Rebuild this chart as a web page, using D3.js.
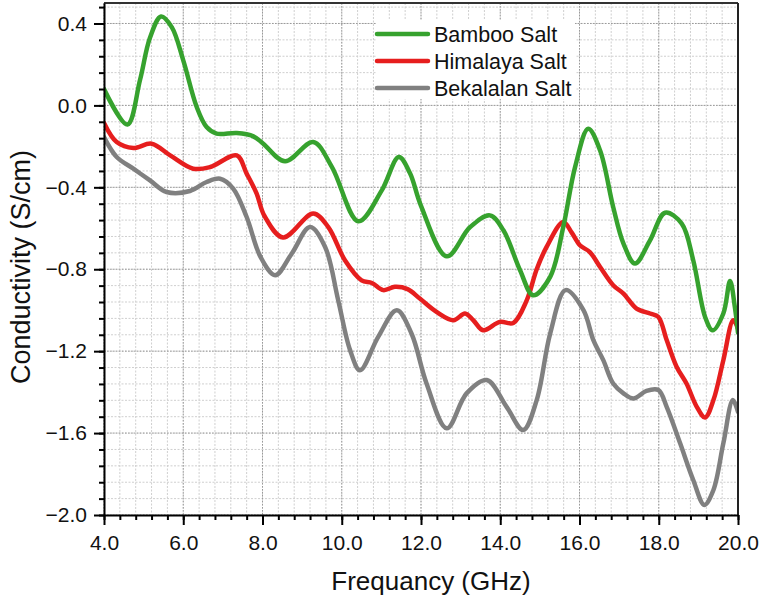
<!DOCTYPE html>
<html>
<head>
<meta charset="utf-8">
<script src="https://cdn.jsdelivr.net/npm/d3@7/dist/d3.min.js"></script>
<style>
	body { margin: 0; background: #fff; }
	svg text { font-family: Arial, "Liberation Sans", sans-serif; fill: #111; }
	.grid-minor line { stroke: #cfcfcf; stroke-width: 1; stroke-dasharray: 2,1.5; }
	.grid-major line { stroke: #9a9a9a; stroke-width: 1; stroke-dasharray: 1.5,1.5; }
	.axis path, .axis line { stroke: #000; stroke-width: 2; }
	.axis text { font-size: 21px; }
</style>
</head>
<body>
<svg id="chart" width="762" height="599"></svg>
<script>
// values
var seriesNames = ['Bamboo Salt', 'Himalaya Salt', 'Bekalalan Salt'];
var seriesColors = ['#36a22e', '#e61e1e', '#808080'];

var bambooX = [4.0, 4.59, 4.91, 5.16, 5.44, 5.71, 6.0, 6.34, 6.59, 6.84, 7.35, 7.77, 8.02, 8.57, 9.28, 9.75, 10.42, 11.01, 11.44, 11.72, 12.0, 12.65, 13.24, 13.74, 14.08, 14.5, 14.83, 15.26, 15.59, 15.89, 16.22, 16.52, 16.85, 17.11, 17.4, 17.78, 18.16, 18.58, 18.87, 19.17, 19.36, 19.63, 19.8, 19.92, 20.0];
var bambooY = [0.08, -0.093, 0.125, 0.33, 0.434, 0.382, 0.22, -0.008, -0.106, -0.138, -0.135, -0.151, -0.187, -0.273, -0.179, -0.30, -0.566, -0.415, -0.252, -0.33, -0.49, -0.737, -0.594, -0.537, -0.61, -0.805, -0.927, -0.837, -0.594, -0.30, -0.114, -0.22, -0.496, -0.675, -0.772, -0.659, -0.524, -0.577, -0.756, -1.033, -1.098, -1.016, -0.857, -0.984, -1.11];

var himalayaX = [4.0, 4.32, 4.74, 5.2, 5.67, 6.25, 6.68, 7.35, 7.6, 7.85, 8.05, 8.52, 9.28, 9.66, 10.08, 10.5, 10.76, 11.05, 11.34, 11.66, 11.97, 12.39, 12.82, 13.11, 13.32, 13.57, 13.99, 14.33, 14.67, 14.92, 15.17, 15.59, 15.8, 16.01, 16.26, 16.52, 16.85, 17.11, 17.44, 17.78, 17.99, 18.2, 18.45, 18.7, 18.96, 19.17, 19.38, 19.63, 19.88, 20.0];
var himalayaY = [-0.086, -0.179, -0.208, -0.187, -0.244, -0.309, -0.301, -0.244, -0.333, -0.43, -0.54, -0.645, -0.528, -0.594, -0.756, -0.854, -0.867, -0.902, -0.886, -0.897, -0.943, -1.008, -1.049, -1.016, -1.049, -1.098, -1.057, -1.062, -0.951, -0.80, -0.691, -0.569, -0.62, -0.683, -0.716, -0.789, -0.878, -0.919, -0.992, -1.016, -1.033, -1.146, -1.276, -1.358, -1.472, -1.524, -1.439, -1.244, -1.049, -1.09];

var bekalalanX = [4.0, 4.32, 4.74, 5.16, 5.58, 6.17, 6.59, 6.93, 7.26, 7.6, 7.95, 8.32, 8.74, 9.2, 9.58, 9.91, 10.21, 10.46, 10.92, 11.39, 11.76, 12.14, 12.65, 13.15, 13.66, 14.16, 14.58, 14.92, 15.26, 15.65, 16.1, 16.35, 16.6, 16.85, 17.11, 17.36, 17.69, 17.99, 18.2, 18.54, 18.87, 19.15, 19.38, 19.63, 19.87, 20.0];
var bekalalanY = [-0.155, -0.252, -0.309, -0.366, -0.423, -0.418, -0.374, -0.358, -0.406, -0.545, -0.74, -0.829, -0.723, -0.594, -0.691, -0.951, -1.195, -1.293, -1.13, -1.0, -1.114, -1.358, -1.577, -1.406, -1.341, -1.472, -1.585, -1.439, -1.114, -0.902, -1.0, -1.146, -1.244, -1.358, -1.406, -1.431, -1.394, -1.39, -1.472, -1.65, -1.829, -1.951, -1.878, -1.65, -1.439, -1.496];

var xTicks = [4, 6, 8, 10, 12, 14, 16, 18, 20];
var yTicks = [0.4, 0.0, -0.4, -0.8, -1.2, -1.6, -2.0];
var xDomain = [4, 20];
var yDomain = [-2.0, 0.5];

var svg = d3.select('#chart'),
	margin = {top: 3, right: 24, bottom: 84, left: 104},
	width = +svg.attr('width') - margin.left - margin.right,
	height = +svg.attr('height') - margin.top - margin.bottom,
	g = svg.append('g').attr('transform', 'translate(' + margin.left + ',' + margin.top + ')');

var x = d3.scaleLinear().domain(xDomain).range([0, width]);
var y = d3.scaleLinear().domain(yDomain).range([height, 0]);

var xMinor = d3.range(4, 20.001, 0.4).map(function(d) { return +d.toFixed(2); });
var yMinor = d3.range(-2.0, 0.5001, 0.08).map(function(d) { return +d.toFixed(2); });

// grid
g.append('g').attr('class', 'grid-minor')
	.selectAll('line.v').data(xMinor).enter().append('line')
	.attr('x1', function(d) { return x(d); }).attr('x2', function(d) { return x(d); })
	.attr('y1', 0).attr('y2', height);
g.append('g').attr('class', 'grid-minor')
	.selectAll('line.h').data(yMinor).enter().append('line')
	.attr('y1', function(d) { return y(d); }).attr('y2', function(d) { return y(d); })
	.attr('x1', 0).attr('x2', width);
g.append('g').attr('class', 'grid-major')
	.selectAll('line').data(xTicks).enter().append('line')
	.attr('x1', function(d) { return x(d); }).attr('x2', function(d) { return x(d); })
	.attr('y1', 0).attr('y2', height);
g.append('g').attr('class', 'grid-major')
	.selectAll('line').data(yTicks).enter().append('line')
	.attr('y1', function(d) { return y(d); }).attr('y2', function(d) { return y(d); })
	.attr('x1', 0).attr('x2', width);

// legend box hides the grid behind it
var legend = g.append('g').attr('transform', 'translate(' + (377 - margin.left) + ',' + (20 - margin.top) + ')');
legend.append('rect').attr('width', 198).attr('height', 79).attr('fill', '#fff');

// lines
var line = d3.line()
	.x(function(d) { return x(d[0]); })
	.y(function(d) { return y(d[1]); })
	.curve(d3.curveCatmullRom.alpha(0.5));

var allX = [bambooX, himalayaX, bekalalanX],
	allY = [bambooY, himalayaY, bekalalanY];

g.append('defs').append('clipPath').attr('id', 'clip')
	.append('rect').attr('width', width).attr('height', height);

// grey first, green last so green sits on top
[2, 1, 0].forEach(function(i) {
	g.append('path')
		.datum(d3.zip(allX[i], allY[i]))
		.attr('clip-path', 'url(#clip)')
		.attr('fill', 'none')
		.attr('stroke', seriesColors[i])
		.attr('stroke-width', 4.5)
		.attr('stroke-linejoin', 'round')
		.attr('stroke-linecap', 'round')
		.attr('d', line);
});

// frame top and right
g.append('line').attr('x1', 0).attr('x2', width).attr('y1', 0).attr('y2', 0)
	.attr('stroke', '#333').attr('stroke-width', 2);
g.append('line').attr('x1', width).attr('x2', width).attr('y1', 0).attr('y2', height)
	.attr('stroke', '#222').attr('stroke-width', 2);

// minor ticks
g.append('g').attr('class', 'axis')
	.attr('transform', 'translate(0,' + height + ')')
	.call(d3.axisBottom(x).tickValues(xMinor).tickSize(5).tickFormat(''))
	.select('.domain').remove();
g.append('g').attr('class', 'axis')
	.call(d3.axisLeft(y).tickValues(yMinor).tickSize(5).tickFormat(''))
	.select('.domain').remove();

// major axes
g.append('g').attr('class', 'axis')
	.attr('transform', 'translate(0,' + height + ')')
	.call(d3.axisBottom(x).tickValues(xTicks).tickSize(10).tickSizeOuter(0).tickPadding(10).tickFormat(d3.format('.1f')));
g.append('g').attr('class', 'axis')
	.call(d3.axisLeft(y).tickValues(yTicks).tickSize(10).tickSizeOuter(0).tickPadding(7).tickFormat(d3.format('.1f')));

// legend entries
seriesNames.forEach(function(name, i) {
	var row = legend.append('g').attr('transform', 'translate(0,' + (14 + i * 27) + ')');
	row.append('line').attr('x1', 0).attr('x2', 51).attr('y1', 0).attr('y2', 0)
		.attr('stroke', seriesColors[i]).attr('stroke-width', 4.5).attr('stroke-linecap', 'round');
	row.append('text').attr('x', 57).attr('dy', '0.36em')
		.style('font-size', '21.5px').text(name);
});

// axis titles
svg.append('text')
	.attr('x', 431).attr('y', 590)
	.attr('text-anchor', 'middle')
	.style('font-size', '26px')
	.text('Frequancy (GHz)');

svg.append('text')
	.attr('transform', 'translate(30,267) rotate(-90)')
	.attr('text-anchor', 'middle')
	.style('font-size', '27px')
	.text('Conductivity (S/cm)');
</script>
</body>
</html>
